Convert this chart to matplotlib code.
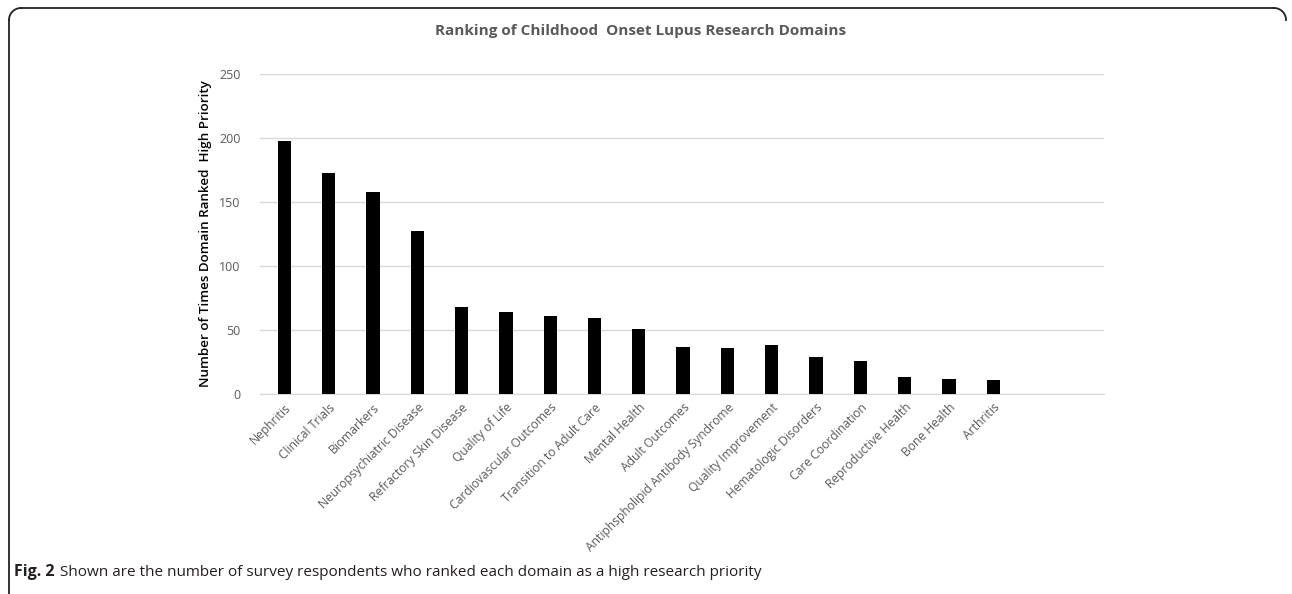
import matplotlib.pyplot as plt
from matplotlib.lines import Line2D
import numpy as np

domains = ["Nephritis", "Clinical Trials", "Biomarkers", "Neuropsychiatric Disease",
           "Refractory Skin Disease", "Quality of Life", "Cardiovascular Outcomes",
           "Transition to Adult Care", "Mental Health", "Adult Outcomes",
           "Antiphspholipid Antibody Syndrome", "Quality Improvement",
           "Hematologic Disorders", "Care Coordination", "Reproductive Health",
           "Bone Health", "Arthritis"]
counts = [198, 173, 158, 127, 68, 64, 61, 59, 51, 37, 36, 38, 29, 26, 13, 12, 11]
yticks = [0, 50, 100, 150, 200, 250]

W, H = 1292, 594
fig = plt.figure(figsize=(W / 100, H / 100), dpi=100)

# axes placed in pixel coordinates
left, right, top, bottom = 260, 1104, 74, 394
ax = fig.add_axes([left / W, 1 - bottom / H, (right - left) / W, (bottom - top) / H])

x = np.arange(len(domains))
ax.bar(x, counts, width=0.3, color="black", zorder=3)
ax.set_xlim(-0.55, 18.5)
ax.set_ylim(0, 250)
ax.set_yticks(yticks)
ax.grid(axis="y", color="#d9d9d9", linewidth=1, zorder=0)
for s in ["top", "right", "left"]:
    ax.spines[s].set_visible(False)
ax.spines["bottom"].set_color("#d9d9d9")
ax.tick_params(length=0, labelcolor="#595959", labelsize=9)
ax.tick_params(axis="y", pad=14)
ax.tick_params(axis="x", pad=5)
ax.set_xticks(x)
ax.set_xticklabels(domains, rotation=45, ha="right", rotation_mode="anchor",
                   fontsize=8.7, family="Open Sans")
for lab in ax.get_yticklabels():
    lab.set_family("Open Sans")
ax.set_ylabel("Number of Times Domain Ranked  High Priority", fontsize=9.6,
              family="Open Sans", fontweight="semibold", color="black", labelpad=5)

fig.text(641 / W, 1 - 31 / H, "Ranking of Childhood  Onset Lupus Research Domains",
         ha="center", va="center", fontsize=11, fontweight="bold",
         color="#595959", family="Open Sans")

# caption
t = fig.text(14 / W, 1 - 572 / H, "Fig. 2", ha="left", va="center", fontsize=11.5,
             fontweight="bold", color="#231f20", family="Open Sans")
fig.canvas.draw()
bb = t.get_window_extent()
fig.text((bb.x1 + 5) / W, 1 - 572 / H,
         "Shown are the number of survey respondents who ranked each domain as a high research priority",
         ha="left", va="center", fontsize=11, color="#231f20", family="Open Sans")

# frame: top and left edges with rounded top corners
r = 12
lc = "#222222"
fig.add_artist(Line2D([(9 + r) / W, (W - 6 - r) / W], [1 - 8 / H, 1 - 8 / H],
                      color=lc, linewidth=1.3))
fig.add_artist(Line2D([9 / W, 9 / W], [1 - (8 + r) / H, 0], color=lc, linewidth=1.3))
th = np.linspace(np.pi / 2, np.pi, 20)
fig.add_artist(Line2D((9 + r + r * np.cos(th)) / W, 1 - (8 + r - r * np.sin(th)) / H,
                      color=lc, linewidth=1.3))
th2 = np.linspace(0, np.pi / 2, 20)
fig.add_artist(Line2D((W - 6 - r + r * np.cos(th2)) / W, 1 - (8 + r - r * np.sin(th2)) / H,
                      color=lc, linewidth=1.3))

fig.savefig("out.png", dpi=100)
